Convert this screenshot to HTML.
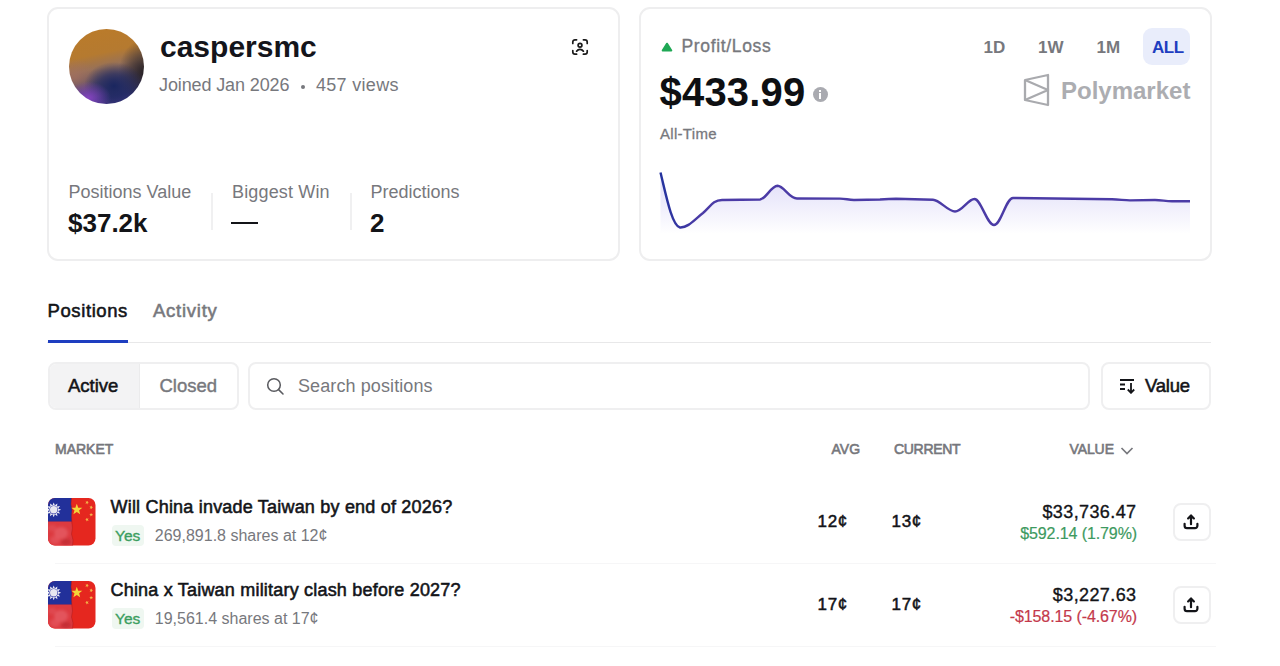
<!DOCTYPE html>
<html><head><meta charset="utf-8">
<style>
html,body{margin:0;padding:0;background:#fff;width:1280px;height:666px;overflow:hidden;position:relative;font-family:"Liberation Sans",sans-serif;}
.a{position:absolute;white-space:nowrap;line-height:1;}
.card{position:absolute;border:2px solid #EEEEEF;border-radius:11px;box-sizing:border-box;background:#fff;}
.g{color:#77787D;}
.d{color:#131418;}
.b{font-weight:700;}
.m{font-weight:400;-webkit-text-stroke:0.55px currentColor;}
.box{position:absolute;box-sizing:border-box;border:2px solid #EFEFF0;border-radius:8px;background:#fff;}
</style></head>
<body>
<div class="card" style="left:47px;top:7px;width:572.5px;height:254px;"></div>
<div class="a" style="left:69px;top:28.5px;width:75px;height:75px;border-radius:50%;overflow:hidden;background:
radial-gradient(ellipse 30% 22% at 26% 92%, rgba(140,68,200,0.9) 0%, rgba(140,68,200,0.45) 50%, rgba(140,68,200,0) 100%),
radial-gradient(ellipse 40% 32% at 60% 76%, rgba(26,38,95,1) 0%, rgba(26,38,95,0.6) 50%, rgba(26,38,95,0) 100%),
radial-gradient(ellipse 34% 44% at 100% 58%, rgba(38,32,34,0.95) 0%, rgba(38,32,34,0.5) 50%, rgba(38,32,34,0) 100%),
radial-gradient(ellipse 30% 24% at 8% 64%, rgba(165,112,95,0.7) 0%, rgba(165,112,95,0) 100%),
linear-gradient(168deg,#BB7B29 0%,#B57A30 34%,#977158 50%,#5E4E66 66%,#383774 84%,#463889 100%);"></div>
<div class="a d b" style="left:160px;top:31.90px;font-size:30px;color:#14151B;">caspersmc</div>
<div class="a g" style="left:159px;top:75.76px;font-size:18px;letter-spacing:-0.12px;">Joined Jan 2026</div>
<div class="a" style="left:300.5px;top:85px;width:4px;height:4px;border-radius:50%;background:#77787D;"></div>
<div class="a g" style="left:316px;top:75.76px;font-size:18px;letter-spacing:0.3px;">457 views</div>
<svg class="a" style="left:571px;top:38px" width="18" height="18" viewBox="0 0 18 18" fill="none" stroke="#1a1a1a" stroke-width="1.7" stroke-linecap="round">
<path d="M1.8 5.5V4a2.2 2.2 0 0 1 2.2-2.2h1.6M12.4 1.8H14a2.2 2.2 0 0 1 2.2 2.2v1.5M16.2 12.5V14a2.2 2.2 0 0 1-2.2 2.2h-1.6M5.6 16.2H4A2.2 2.2 0 0 1 1.8 14v-1.5"/>
<circle cx="9" cy="7.2" r="1.9"/>
<path d="M5.6 13.2c.9-1.3 2-1.9 3.4-1.9s2.5.6 3.4 1.9"/>
</svg>
<div class="a g" style="left:68.5px;top:182.96px;font-size:18px;">Positions Value</div>
<div class="a d b" style="left:68px;top:209.99px;font-size:26px;">$37.2k</div>
<div class="a" style="left:211px;top:193px;width:1.5px;height:37px;background:#F0F0F1;"></div>
<div class="a g" style="left:232px;top:182.96px;font-size:18px;letter-spacing:0.15px;">Biggest Win</div>
<div class="a" style="left:231px;top:222px;width:27px;height:2px;background:#131418;"></div>
<div class="a" style="left:350px;top:193px;width:1.5px;height:37px;background:#F0F0F1;"></div>
<div class="a g" style="left:370.5px;top:182.96px;font-size:18px;">Predictions</div>
<div class="a d b" style="left:370px;top:209.99px;font-size:26px;">2</div>
<div class="card" style="left:639px;top:7px;width:572.5px;height:254px;"></div>
<svg class="a" style="left:661px;top:41.5px" width="12" height="10" viewBox="0 0 12 10"><path d="M6 1.6L10.4 8.6H1.6Z" fill="#1FA855" stroke="#1FA855" stroke-width="1.8" stroke-linejoin="round"/></svg>
<div class="a g m" style="left:681.5px;top:37.79px;font-size:17.5px;letter-spacing:0.65px;-webkit-text-stroke-width:0.35px;">Profit/Loss</div>
<div class="a d b" style="left:659.5px;top:71.84px;font-size:40px;color:#0E0F12;letter-spacing:0.2px;">$433.99</div>
<div class="a" style="left:812.5px;top:86.5px;width:15px;height:15px;border-radius:50%;background:#A9AAB0;"></div>
<div class="a" style="left:819px;top:89.5px;width:2px;height:2px;background:#fff;"></div><div class="a" style="left:819px;top:92.5px;width:2px;height:6px;background:#fff;"></div>
<div class="a g m" style="left:660px;top:126.30px;font-size:15px;letter-spacing:0.3px;-webkit-text-stroke-width:0.3px;">All-Time</div>
<div class="a g b" style="left:983.5px;top:38.51px;font-size:17px;">1D</div>
<div class="a g b" style="left:1038px;top:38.51px;font-size:17px;">1W</div>
<div class="a g b" style="left:1096.5px;top:38.51px;font-size:17px;">1M</div>
<div class="a" style="left:1142.5px;top:28px;width:47px;height:37px;border-radius:9px;background:#E9EDFB;"></div>
<div class="a b" style="left:1152px;top:38.51px;font-size:17px;color:#1E3EC0;letter-spacing:-0.5px;">ALL</div>
<svg class="a" style="left:1022px;top:73px" width="28" height="34" viewBox="0 0 28 34" fill="none" stroke="#A9AAAE" stroke-width="2.3" stroke-linejoin="round">
<path d="M3 7L26 2V32L3 27Z"/><path d="M3 7L26 17L3 27"/>
</svg>
<div class="a b" style="left:1061px;top:78.88px;font-size:24px;color:#ACADB1;">Polymarket</div>
<svg class="a" style="left:640px;top:160px" width="570" height="90" viewBox="640 160 570 90">
<defs><linearGradient id="fg" x1="0" y1="185" x2="0" y2="234" gradientUnits="userSpaceOnUse">
<stop offset="0" stop-color="#6A5CE0" stop-opacity="0.18"/><stop offset="0.5" stop-color="#6A5CE0" stop-opacity="0.09"/><stop offset="1" stop-color="#6A5CE0" stop-opacity="0"/></linearGradient>
<linearGradient id="lg" x1="660" y1="0" x2="700" y2="0" gradientUnits="userSpaceOnUse"><stop offset="0" stop-color="#23329E"/><stop offset="1" stop-color="#4B3BA6"/></linearGradient></defs>
<path d="M660.5 172.5 C666 195 672 226 680 227.5 C688 228 695 219 703 213 C710 207 713 200 722 200 L760 199.5 C766 199 771 186 777.5 185.8 C784 186 789 198.5 797 198.5 L840 198.6 C846 198.6 848 200 854 200 L880 199.5 C886 199 890 198.7 896 198.7 L933 199.7 C940 200 948 211.5 955 211.5 C962 211.5 968 199 974.5 199 C981 199 987 225 994 225 C1001 225 1006 198 1013 198 L1112 199.3 C1120 199.5 1124 200.4 1130 200.4 L1155 200 C1162 200 1165 201.3 1172 201.3 L1190 201.3 L1190 234 L660.5 234 Z" fill="url(#fg)"/>
<path d="M660.5 172.5 C666 195 672 226 680 227.5 C688 228 695 219 703 213 C710 207 713 200 722 200 L760 199.5 C766 199 771 186 777.5 185.8 C784 186 789 198.5 797 198.5 L840 198.6 C846 198.6 848 200 854 200 L880 199.5 C886 199 890 198.7 896 198.7 L933 199.7 C940 200 948 211.5 955 211.5 C962 211.5 968 199 974.5 199 C981 199 987 225 994 225 C1001 225 1006 198 1013 198 L1112 199.3 C1120 199.5 1124 200.4 1130 200.4 L1155 200 C1162 200 1165 201.3 1172 201.3 L1190 201.3" fill="none" stroke="url(#lg)" stroke-width="2.4" stroke-linejoin="round"/>
</svg>
<div class="a d m" style="left:47.5px;top:302.34px;font-size:18.5px;letter-spacing:0.6px;">Positions</div>
<div class="a g m" style="left:153px;top:302.34px;font-size:18.5px;letter-spacing:0.75px;">Activity</div>
<div class="a" style="left:47px;top:341.5px;width:1164px;height:1.5px;background:#E8E8E9;"></div>
<div class="a" style="left:47.5px;top:340px;width:80.5px;height:3px;background:#1E3EC0;"></div>
<div class="box" style="left:47.5px;top:362px;width:191px;height:48px;overflow:hidden;">
<div style="position:absolute;left:0;top:0;width:89px;height:100%;background:#F3F3F4;border-right:1.5px solid #EBEBEC;"></div>
</div>
<div class="a d m" style="left:68px;top:377.04px;font-size:18.5px;">Active</div>
<div class="a g m" style="left:159.5px;top:377.04px;font-size:18.5px;-webkit-text-stroke-width:0.4px;">Closed</div>
<div class="box" style="left:247.8px;top:362px;width:842.5px;height:48px;"></div>
<svg class="a" style="left:266px;top:376.5px" width="19" height="19" viewBox="0 0 19 19" fill="none" stroke="#5A5B60" stroke-width="1.55" stroke-linecap="round"><circle cx="8" cy="8" r="6.3"/><path d="M12.6 12.6L17 17"/></svg>
<div class="a g" style="left:298px;top:377.46px;font-size:18px;letter-spacing:0.1px;">Search positions</div>
<div class="box" style="left:1100.5px;top:362px;width:110.5px;height:48px;"></div>
<svg class="a" style="left:1119px;top:378px" width="18" height="16" viewBox="0 0 18 16" fill="none" stroke="#131418" stroke-width="1.8" stroke-linecap="butt">
<path d="M1 2H15M1 6.5H6M1 11H6M12 5V14.5M8.8 11.5L12 14.8L15.2 11.5"/>
</svg>
<div class="a d m" style="left:1145px;top:377.04px;font-size:18.5px;letter-spacing:-0.2px;">Value</div>
<div class="a g m" style="left:55px;top:442.15px;font-size:14px;color:#76777C;-webkit-text-stroke-width:0.6px;letter-spacing:0px;">MARKET</div>
<div class="a g m" style="left:831.5px;top:442.15px;font-size:14px;color:#76777C;-webkit-text-stroke-width:0.6px;letter-spacing:0px;">AVG</div>
<div class="a g m" style="left:894px;top:442.15px;font-size:14px;color:#76777C;-webkit-text-stroke-width:0.6px;letter-spacing:-0.3px;">CURRENT</div>
<div class="a g m" style="left:1069.5px;top:442.15px;font-size:14px;color:#76777C;-webkit-text-stroke-width:0.6px;letter-spacing:-0.1px;">VALUE</div>
<svg class="a" style="left:1119px;top:444px" width="16" height="12" viewBox="0 0 16 12" fill="none" stroke="#77787D" stroke-width="1.7"><path d="M2.5 4L8 9.5L13.5 4"/></svg>
<svg class="a" style="left:47.5px;top:497.5px" width="48" height="48" viewBox="0 0 48 48"><defs><clipPath id="CP0"><rect x="0" y="0" width="47.5" height="47.5" rx="7"/></clipPath>
<filter id="BL0" x="-20%" y="-20%" width="140%" height="140%"><feGaussianBlur stdDeviation="1.6"/></filter></defs>
<g clip-path="url(#CP0)">
<rect width="48" height="48" fill="#E5271F"/>
<path d="M0 23.6 L23.5 23.6 L24.5 30 L23.5 36 L25 42 L24.5 48 L0 48Z" fill="#DC3A40"/>
<g filter="url(#BL0)">
<ellipse cx="13" cy="35" rx="7" ry="6" fill="#EA6A72" opacity="0.55"/>
<ellipse cx="7" cy="42" rx="5" ry="4" fill="#E9656E" opacity="0.45"/>
<ellipse cx="18" cy="44" rx="5" ry="3.5" fill="#B8282F" opacity="0.6"/>
<ellipse cx="4" cy="30" rx="4" ry="3" fill="#E3545C" opacity="0.6"/>
</g>
<path d="M0 0 L23.5 0 L23 6 L24 12 L23.5 18 L23.8 23.6 L0 23.6Z" fill="#22309A"/>
<path d="M5.70,4.40 L6.89,7.36 L9.40,5.39 L8.95,8.55 L12.11,8.10 L10.14,10.61 L13.10,11.80 L10.14,12.99 L12.11,15.50 L8.95,15.05 L9.40,18.21 L6.89,16.24 L5.70,19.20 L4.51,16.24 L2.00,18.21 L2.45,15.05 L-0.71,15.50 L1.26,12.99 L-1.70,11.80 L1.26,10.61 L-0.71,8.10 L2.45,8.55 L2.00,5.39 L4.51,7.36Z" fill="#EEEEF6"/>
<circle cx="5.7" cy="11.8" r="4.4" fill="#3A40A8"/>
<circle cx="5.7" cy="11.8" r="3.7" fill="#E8E8F0"/>
<path d="M28.80,5.80 L30.23,9.63 L34.32,9.81 L31.12,12.35 L32.21,16.29 L28.80,14.04 L25.39,16.29 L26.48,12.35 L23.28,9.81 L27.37,9.63Z" fill="#F3D53A"/>
<g fill="#F4B84A"><path d="M40.00,2.87 L39.77,4.26 L40.96,5.02 L39.56,5.22 L39.21,6.59 L38.58,5.33 L37.17,5.41 L38.18,4.43 L37.66,3.11 L38.91,3.76Z"/><path d="M43.72,7.47 L43.85,8.87 L45.20,9.30 L43.90,9.86 L43.92,11.27 L42.98,10.21 L41.65,10.66 L42.36,9.44 L41.52,8.31 L42.90,8.62Z"/><path d="M43.03,14.71 L43.63,15.98 L45.04,15.92 L44.02,16.89 L44.51,18.21 L43.27,17.54 L42.17,18.41 L42.43,17.03 L41.25,16.25 L42.65,16.07Z"/><path d="M38.32,19.72 L39.23,20.79 L40.58,20.37 L39.84,21.57 L40.66,22.72 L39.29,22.39 L38.45,23.52 L38.34,22.12 L37.00,21.67 L38.30,21.13Z"/></g>
<path d="M23.5 0 L23 6 L24 12 L23.5 18 L23.8 23.6 L24.5 30 L23.5 36 L25 42 L24.5 48" stroke="#A31A1C" stroke-width="0.8" fill="none" opacity="0.5"/>
</g></svg>
<div class="a d m" style="left:110.5px;top:497.76px;font-size:18px;letter-spacing:0.2px;">Will China invade Taiwan by end of 2026?</div>
<div class="a" style="left:112px;top:524.5px;width:32px;height:21px;border-radius:4px;background:#EFF7F1;"></div>
<div class="a m" style="left:115px;top:527.88px;font-size:15.5px;color:#3B9E60;-webkit-text-stroke-width:0.35px;">Yes</div>
<div class="a g" style="left:154.8px;top:527.66px;font-size:16px;">269,891.8 shares at 12¢</div>
<div class="a d m" style="left:817.5px;top:513.41px;font-size:17px;letter-spacing:0.7px;-webkit-text-stroke-width:0.5px;">12¢</div>
<div class="a d m" style="left:891.5px;top:513.41px;font-size:17px;letter-spacing:0.7px;-webkit-text-stroke-width:0.5px;">13¢</div>
<div class="a d m" style="right:143.5px;top:502.76px;font-size:18px;letter-spacing:0.4px;-webkit-text-stroke-width:0.35px;">$33,736.47</div>
<div class="a " style="right:143px;top:525.96px;font-size:16px;color:#3D9A60;-webkit-text-stroke:0.2px #3D9A60;letter-spacing:-0.1px;">$592.14 (1.79%)</div>
<div class="box" style="left:1173px;top:503px;width:38px;height:38px;border-radius:8px;"></div>
<svg class="a" style="left:1182px;top:513px" width="18" height="17" viewBox="0 0 18 17" fill="none" stroke="#131418" stroke-width="2.2" stroke-linecap="round" stroke-linejoin="round"><path d="M9 11.2V2.6M6.1 5.4L9 2.4L11.9 5.4M2.6 10.8V12.8a2.4 2.4 0 0 0 2.4 2.4h8A2.4 2.4 0 0 0 15.4 12.8v-2"/></svg>
<div class="a" style="left:55px;top:562.8px;width:1161px;height:1.6px;background:#F6F6F7;"></div>
<svg class="a" style="left:47.5px;top:580.5px" width="48" height="48" viewBox="0 0 48 48"><defs><clipPath id="CP1"><rect x="0" y="0" width="47.5" height="47.5" rx="7"/></clipPath>
<filter id="BL1" x="-20%" y="-20%" width="140%" height="140%"><feGaussianBlur stdDeviation="1.6"/></filter></defs>
<g clip-path="url(#CP1)">
<rect width="48" height="48" fill="#E5271F"/>
<path d="M0 23.6 L23.5 23.6 L24.5 30 L23.5 36 L25 42 L24.5 48 L0 48Z" fill="#DC3A40"/>
<g filter="url(#BL1)">
<ellipse cx="13" cy="35" rx="7" ry="6" fill="#EA6A72" opacity="0.55"/>
<ellipse cx="7" cy="42" rx="5" ry="4" fill="#E9656E" opacity="0.45"/>
<ellipse cx="18" cy="44" rx="5" ry="3.5" fill="#B8282F" opacity="0.6"/>
<ellipse cx="4" cy="30" rx="4" ry="3" fill="#E3545C" opacity="0.6"/>
</g>
<path d="M0 0 L23.5 0 L23 6 L24 12 L23.5 18 L23.8 23.6 L0 23.6Z" fill="#22309A"/>
<path d="M5.70,4.40 L6.89,7.36 L9.40,5.39 L8.95,8.55 L12.11,8.10 L10.14,10.61 L13.10,11.80 L10.14,12.99 L12.11,15.50 L8.95,15.05 L9.40,18.21 L6.89,16.24 L5.70,19.20 L4.51,16.24 L2.00,18.21 L2.45,15.05 L-0.71,15.50 L1.26,12.99 L-1.70,11.80 L1.26,10.61 L-0.71,8.10 L2.45,8.55 L2.00,5.39 L4.51,7.36Z" fill="#EEEEF6"/>
<circle cx="5.7" cy="11.8" r="4.4" fill="#3A40A8"/>
<circle cx="5.7" cy="11.8" r="3.7" fill="#E8E8F0"/>
<path d="M28.80,5.80 L30.23,9.63 L34.32,9.81 L31.12,12.35 L32.21,16.29 L28.80,14.04 L25.39,16.29 L26.48,12.35 L23.28,9.81 L27.37,9.63Z" fill="#F3D53A"/>
<g fill="#F4B84A"><path d="M40.00,2.87 L39.77,4.26 L40.96,5.02 L39.56,5.22 L39.21,6.59 L38.58,5.33 L37.17,5.41 L38.18,4.43 L37.66,3.11 L38.91,3.76Z"/><path d="M43.72,7.47 L43.85,8.87 L45.20,9.30 L43.90,9.86 L43.92,11.27 L42.98,10.21 L41.65,10.66 L42.36,9.44 L41.52,8.31 L42.90,8.62Z"/><path d="M43.03,14.71 L43.63,15.98 L45.04,15.92 L44.02,16.89 L44.51,18.21 L43.27,17.54 L42.17,18.41 L42.43,17.03 L41.25,16.25 L42.65,16.07Z"/><path d="M38.32,19.72 L39.23,20.79 L40.58,20.37 L39.84,21.57 L40.66,22.72 L39.29,22.39 L38.45,23.52 L38.34,22.12 L37.00,21.67 L38.30,21.13Z"/></g>
<path d="M23.5 0 L23 6 L24 12 L23.5 18 L23.8 23.6 L24.5 30 L23.5 36 L25 42 L24.5 48" stroke="#A31A1C" stroke-width="0.8" fill="none" opacity="0.5"/>
</g></svg>
<div class="a d m" style="left:110.5px;top:580.76px;font-size:18px;letter-spacing:0.2px;">China x Taiwan military clash before 2027?</div>
<div class="a" style="left:112px;top:607.5px;width:32px;height:21px;border-radius:4px;background:#EFF7F1;"></div>
<div class="a m" style="left:115px;top:610.88px;font-size:15.5px;color:#3B9E60;-webkit-text-stroke-width:0.35px;">Yes</div>
<div class="a g" style="left:154.8px;top:610.66px;font-size:16px;">19,561.4 shares at 17¢</div>
<div class="a d m" style="left:817.5px;top:596.41px;font-size:17px;letter-spacing:0.7px;-webkit-text-stroke-width:0.5px;">17¢</div>
<div class="a d m" style="left:891.5px;top:596.41px;font-size:17px;letter-spacing:0.7px;-webkit-text-stroke-width:0.5px;">17¢</div>
<div class="a d m" style="right:143.5px;top:585.76px;font-size:18px;letter-spacing:0.4px;-webkit-text-stroke-width:0.35px;">$3,227.63</div>
<div class="a " style="right:143px;top:608.96px;font-size:16px;color:#C4394B;-webkit-text-stroke:0.2px #C4394B;letter-spacing:-0.1px;">-$158.15 (-4.67%)</div>
<div class="box" style="left:1173px;top:586px;width:38px;height:38px;border-radius:8px;"></div>
<svg class="a" style="left:1182px;top:596px" width="18" height="17" viewBox="0 0 18 17" fill="none" stroke="#131418" stroke-width="2.2" stroke-linecap="round" stroke-linejoin="round"><path d="M9 11.2V2.6M6.1 5.4L9 2.4L11.9 5.4M2.6 10.8V12.8a2.4 2.4 0 0 0 2.4 2.4h8A2.4 2.4 0 0 0 15.4 12.8v-2"/></svg>
<div class="a" style="left:55px;top:645.8px;width:1161px;height:1.6px;background:#F6F6F7;"></div>
</body></html>
